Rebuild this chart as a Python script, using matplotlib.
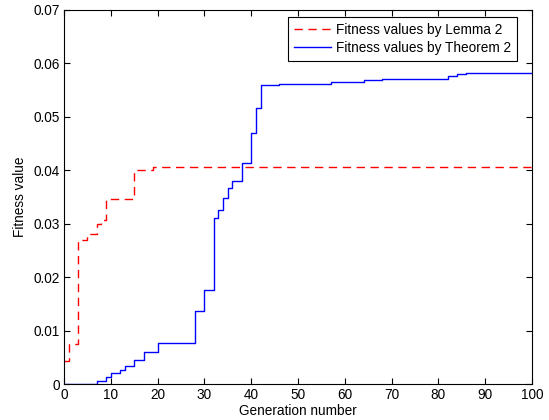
import numpy as np
import matplotlib
matplotlib.use('agg')
import matplotlib.pyplot as plt

## Data (generation where value changes -> new value)
lemma_gen = [0, 1, 3, 5, 7, 8, 9, 15, 19, 100]
lemma_val = [0.0043, 0.0074, 0.0270, 0.0280, 0.0299, 0.0307, 0.0346, 0.0401, 0.0405, 0.0405]

theorem_gen = [0, 7, 9, 10, 12, 13, 15, 17, 20, 28, 30, 32, 33, 34, 35, 36, 38, 40, 41, 42,
               46, 57, 64, 68, 82, 84, 86, 100]
theorem_val = [0.0, 0.00056, 0.00137, 0.0021, 0.0026, 0.0033, 0.0044, 0.0060, 0.0077, 0.0136,
               0.0176, 0.0310, 0.0325, 0.0347, 0.0366, 0.0380, 0.0413, 0.0470, 0.0517, 0.0559,
               0.0561, 0.0564, 0.0568, 0.0571, 0.0576, 0.0580, 0.0581, 0.0581]

plt.rcParams['font.family'] = ['Liberation Sans', 'DejaVu Sans']
plt.rcParams['font.size'] = 9.8

fig = plt.figure(figsize=(5.49, 4.2), dpi=100)
ax = fig.add_axes([0.1166, 0.0857, 0.8524, 0.891])

ax.step(lemma_gen, lemma_val, where='post', color='red', lw=1.0,
        dashes=(6, 4), label='Fitness values by Lemma 2')
ax.step(theorem_gen, theorem_val, where='post', color='blue', lw=1.0,
        label='Fitness values by Theorem 2')

ax.set_xlim(0, 100)
ax.set_ylim(0, 0.07)
ax.set_xticks(np.arange(0, 101, 10))
ax.set_yticks(np.arange(0, 0.071, 0.01))
ax.set_yticklabels(['0'] + ['%.2f' % v for v in np.arange(0.01, 0.071, 0.01)])
ax.tick_params(direction='in', top=True, right=True, length=4, width=0.8, pad=3)
for s in ax.spines.values():
    s.set_linewidth(0.8)

ax.set_xlabel('Generation number', labelpad=1)
ax.set_ylabel('Fitness value', labelpad=5)

leg = ax.legend(loc='upper right', bbox_to_anchor=(0.968, 0.981), borderaxespad=0,
                fancybox=False, edgecolor='black', framealpha=1,
                handlelength=2.7, handletextpad=0.35, borderpad=0.45, labelspacing=0.28)
leg.get_frame().set_linewidth(0.8)

plt.savefig('out.png', dpi=100)
